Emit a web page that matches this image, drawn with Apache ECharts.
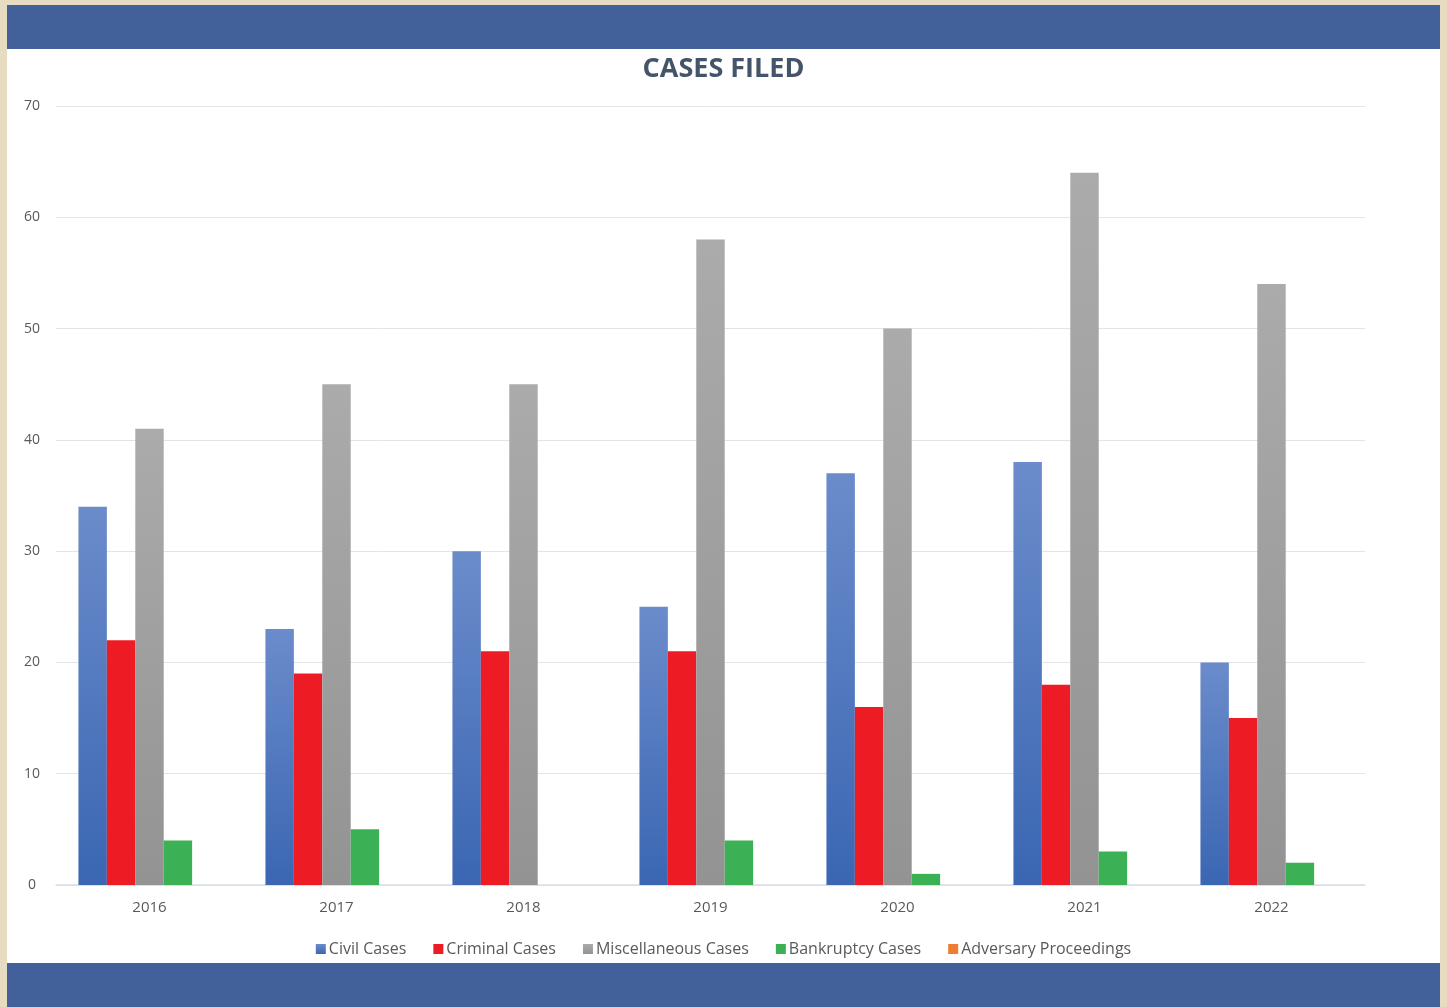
<!DOCTYPE html>
<html>
<head>
<meta charset="utf-8">
<script src="https://cdn.jsdelivr.net/npm/echarts@6/dist/echarts.min.js"></script>
<style>
html,body{margin:0;padding:0;background:#e7dbc2;}
#c{width:1447px;height:1007px;}
</style>
</head>
<body>
<div id="c"></div>
<script>
const categories = ['2016','2017','2018','2019','2020','2021','2022'];
const civilCases = [34, 23, 30, 25, 37, 38, 20];
const criminalCases = [22, 19, 21, 21, 16, 18, 15];
const miscCases = [41, 45, 45, 58, 50, 64, 54];
const bankruptcyCases = [4, 5, 0, 4, 1, 3, 2];
const adversaryProceedings = [0, 0, 0, 0, 0, 0, 0];
const yTicks = [0, 10, 20, 30, 40, 50, 60, 70];

const chart = echarts.init(document.getElementById('c'));
function grad(top, bottom){
  return new echarts.graphic.LinearGradient(0,0,0,1,[{offset:0,color:top},{offset:1,color:bottom}]);
}
chart.setOption({
  backgroundColor: '#e7dbc2',
  animation: false,
  graphic: [
    {type:'rect', z:-10, shape:{x:7,y:5,width:1433,height:1002}, style:{fill:'#ffffff'}},
    {type:'rect', z:-9, shape:{x:7,y:5,width:1433,height:44}, style:{fill:'#42619b'}},
    {type:'rect', z:-9, shape:{x:7,y:963,width:1433,height:44}, style:{fill:'#42619b'}}
  ],
  title: {
    text: 'CASES FILED',
    left: 'center',
    top: 51,
    textStyle: {fontFamily:'"Open Sans", sans-serif', fontWeight:'bold', fontSize:27, color:'#44546a'}
  },
  legend: {
    bottom: 45,
    left: 'center',
    itemWidth: 10,
    itemHeight: 10,
    itemGap: 27,
    icon: 'rect',
    textStyle: {fontFamily:'"Open Sans", sans-serif', fontSize: 16, color:'#595959', padding:[0,0,0,-2]},
    data: ['Civil Cases','Criminal Cases','Miscellaneous Cases','Bankruptcy Cases','Adversary Proceedings']
  },
  grid: {left:56, right:82, top:106, bottom:122},
  xAxis: {
    type:'category',
    data: categories,
    axisLine:{lineStyle:{color:'#d9dee8', width:1.5}},
    axisTick:{show:false},
    axisLabel:{color:'#595959', fontSize:15, margin:15, fontFamily:'"Open Sans", sans-serif'}
  },
  yAxis: {
    type:'value',
    min: yTicks[0],
    max: yTicks[yTicks.length-1],
    interval: 10,
    axisLine:{show:false},
    axisTick:{show:false},
    splitLine:{lineStyle:{color:'#e2e4e8', width:1}},
    axisLabel:{color:'#595959', fontSize:14, margin:24, align:'center', fontFamily:'"Open Sans", sans-serif'}
  },
  series: [
    {name:'Civil Cases', type:'bar', data: civilCases, barGap:'0%', barCategoryGap:'24%',
      itemStyle:{color: grad('#6b8ccb','#3a66b2')}},
    {name:'Criminal Cases', type:'bar', data: criminalCases, itemStyle:{color:'#ed1c24'}},
    {name:'Miscellaneous Cases', type:'bar', data: miscCases, itemStyle:{color: grad('#ababab','#939393')}},
    {name:'Bankruptcy Cases', type:'bar', data: bankruptcyCases, itemStyle:{color:'#3cb054'}},
    {name:'Adversary Proceedings', type:'bar', data: adversaryProceedings, itemStyle:{color:'#ed7d31'}}
  ]
});
</script>
</body>
</html>
